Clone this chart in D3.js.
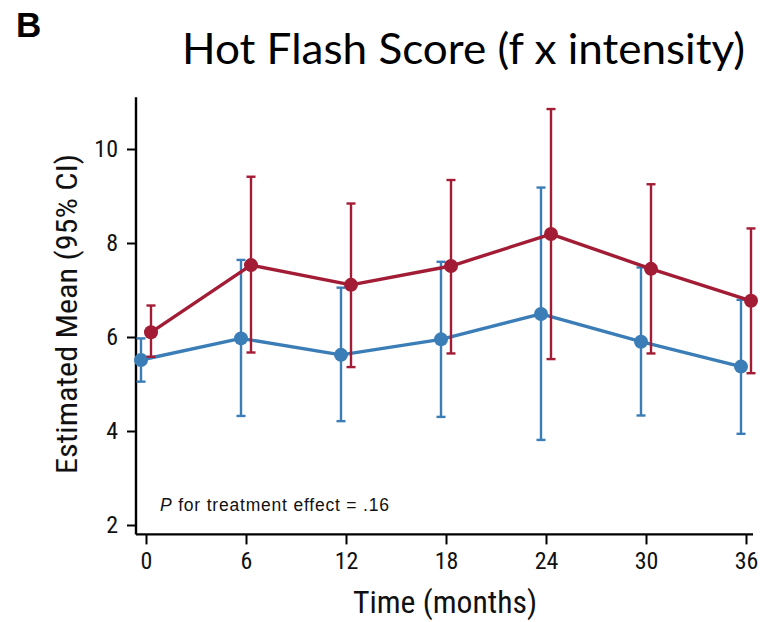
<!DOCTYPE html>
<html>
<head>
<meta charset="utf-8">
<script src="https://cdn.jsdelivr.net/npm/d3@7"></script>
<style>
  html, body { margin: 0; padding: 0; background: #fff; }
  svg { display: block; }
</style>
</head>
<body>
<svg id="chart" width="769" height="622"></svg>
<script>
// ---- data ----
const months = [0, 6, 12, 18, 24, 30, 36];
const xTickLabels = ["0", "6", "12", "18", "24", "30", "36"];
const yTicks = [2, 4, 6, 8, 10];

const blueMean  = [5.51, 5.97, 5.62, 5.95, 6.49, 5.90, 5.37];
const blueLower = [5.05, 4.32, 4.21, 4.30, 3.81, 4.33, 3.94];
const blueUpper = [5.97, 7.64, 7.05, 7.60, 9.18, 7.48, 6.79];

const redMean  = [6.10, 7.53, 7.11, 7.51, 8.19, 7.45, 6.77];
const redLower = [5.58, 5.67, 5.36, 5.65, 5.53, 5.65, 5.23];
const redUpper = [6.67, 9.41, 8.84, 9.34, 10.85, 9.25, 8.31];

const titleText = "Hot Flash Score (f x intensity)";
const panelLabel = "B";
const yLabel = "Estimated Mean (95% CI)";
const xLabel = "Time (months)";

// ---- layout ----
const svg = d3.select("#chart");
const narrow = "'Liberation Sans Narrow', 'Arial Narrow', 'Roboto Condensed', 'Liberation Sans', Arial, sans-serif";

const x = d3.scaleLinear().domain([-0.6, 36.42]).range([136, 753]);
const y = d3.scaleLinear().domain([1.8, 11.1]).range([534.4, 97.3]);

const BLUE = "#3b7db6";
const RED = "#a31c35";

// panel label & title
svg.append("text").attr("x", 16).attr("y", 37)
  .attr("font-family", "'Liberation Sans', Arial, sans-serif").attr("font-weight", "bold").attr("font-size", 35)
  .attr("fill", "#000").text(panelLabel);

svg.append("text").attr("x", 182).attr("y", 64)
  .attr("font-family", "Lato, 'Open Sans', sans-serif").attr("font-size", 42)
  .attr("textLength", 563).attr("lengthAdjust", "spacingAndGlyphs")
  .attr("fill", "#000").text(titleText);

// axes
const yAxis = d3.axisLeft(y).tickValues(yTicks).tickSize(9).tickPadding(9).tickFormat(d3.format("d"));
const gy = svg.append("g").attr("transform", `translate(${x(-0.6)},0)`).call(yAxis);
const xAxis = d3.axisBottom(x).tickValues(months).tickSize(10).tickPadding(8)
  .tickFormat((d, i) => xTickLabels[i]);
const gx = svg.append("g").attr("transform", `translate(0,${y(1.8)})`).call(xAxis);

[gx, gy].forEach(g => {
  g.select(".domain").attr("stroke", "#000").attr("stroke-width", 2.4)
    .attr("d", g === gx ? `M${x(-0.6)},0H${x(36.42)}` : `M0,${y(11.1)}V${y(1.8)}`);
  g.selectAll(".tick line").attr("stroke", "#000").attr("stroke-width", 2);
  g.selectAll(".tick text").attr("font-family", narrow).attr("font-size", 24).attr("fill", "#111");
});

// axis titles
svg.append("text").attr("x", 445).attr("y", 613).attr("text-anchor", "middle")
  .attr("font-family", narrow).attr("font-size", 31)
  .attr("textLength", 184).attr("lengthAdjust", "spacingAndGlyphs")
  .attr("fill", "#111").text(xLabel);

svg.append("text").attr("transform", "translate(77,314) rotate(-90)").attr("text-anchor", "middle")
  .attr("font-family", narrow).attr("font-size", 29)
  .attr("textLength", 320).attr("lengthAdjust", "spacingAndGlyphs")
  .attr("fill", "#111").text(yLabel);

// annotation
const ann = svg.append("text").attr("x", 160).attr("y", 511)
  .attr("font-family", "'Liberation Sans', Arial, sans-serif").attr("font-size", 17.5)
  .attr("letter-spacing", 0.8).attr("fill", "#111");
ann.append("tspan").attr("font-style", "italic").text("P");
ann.append("tspan").text(" for treatment effect = .16");

// series
function drawSeries(mean, lower, upper, color, dx) {
  const g = svg.append("g");
  const pts = months.map((m, i) => ({ m, mean: mean[i], lo: lower[i], hi: upper[i] }));
  const line = d3.line().x(d => x(d.m) + dx).y(d => y(d.mean));
  g.append("path").datum(pts).attr("d", line).attr("fill", "none")
    .attr("stroke", color).attr("stroke-width", 3.4).attr("stroke-linejoin", "round");
  const eb = g.selectAll(".eb").data(pts).enter().append("g");
  eb.append("line").attr("x1", d => x(d.m) + dx).attr("x2", d => x(d.m) + dx)
    .attr("y1", d => y(d.lo)).attr("y2", d => y(d.hi))
    .attr("stroke", color).attr("stroke-width", 2.4);
  ["lo", "hi"].forEach(k => {
    eb.append("line").attr("x1", d => x(d.m) + dx - 4.5).attr("x2", d => x(d.m) + dx + 4.5)
      .attr("y1", d => y(d[k])).attr("y2", d => y(d[k]))
      .attr("stroke", color).attr("stroke-width", 2.4);
  });
  g.selectAll("circle").data(pts).enter().append("circle")
    .attr("cx", d => x(d.m) + dx).attr("cy", d => y(d.mean)).attr("r", 7)
    .attr("fill", color);
}
drawSeries(blueMean, blueLower, blueUpper, BLUE, -5);
drawSeries(redMean, redLower, redUpper, RED, 5);
</script>
</body>
</html>
